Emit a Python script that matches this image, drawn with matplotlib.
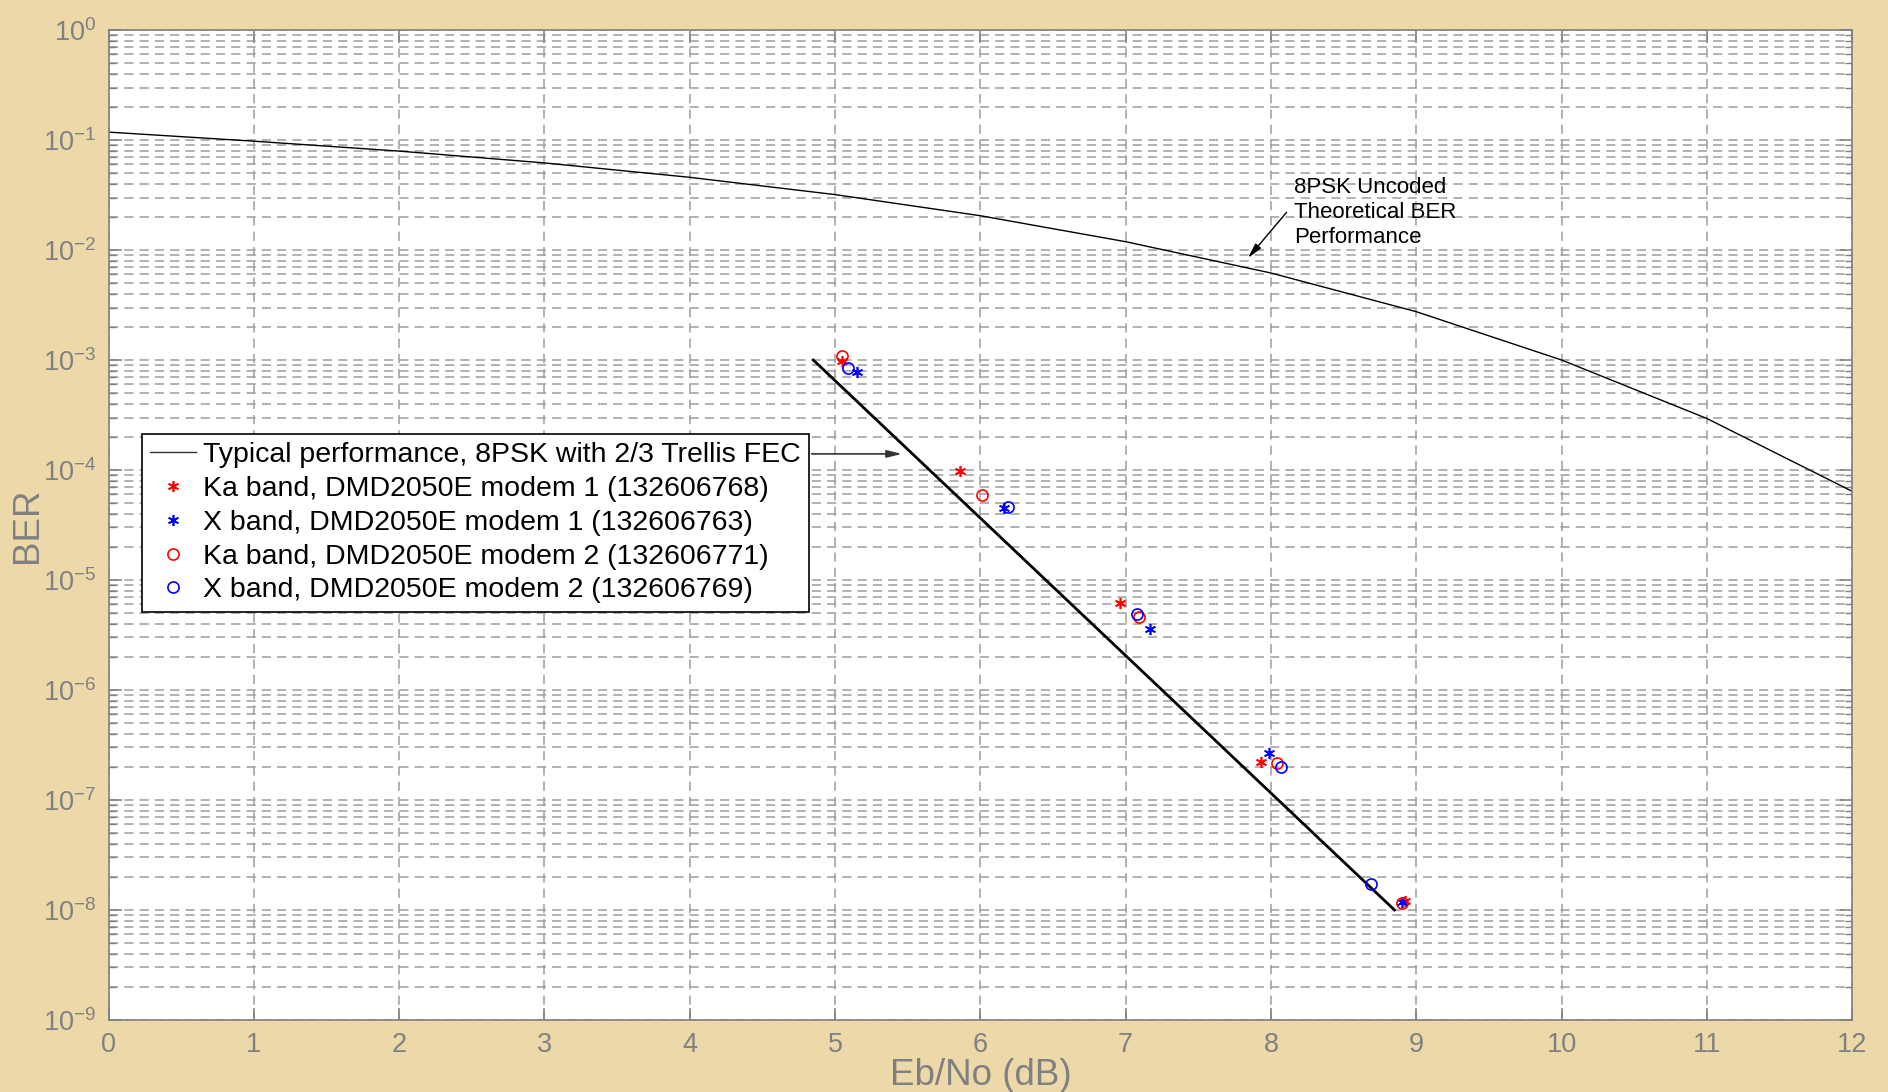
import matplotlib
matplotlib.use('Agg')
import matplotlib.pyplot as plt
from matplotlib.ticker import LogLocator, NullFormatter, FixedLocator

plt.rcParams['font.family'] = ['Liberation Sans', 'DejaVu Sans']
plt.rcParams['mathtext.default'] = 'regular'

# 8PSK uncoded theoretical curve (1 dB steps)
ebno_theory = [0, 1, 2, 3, 4, 5, 6, 7, 8, 9, 10, 11, 12]
ber_theory = [0.118, 0.0976, 0.0793, 0.0619, 0.0458, 0.0319, 0.0205,
              0.0119, 0.00618, 0.00275, 0.00100, 2.94e-4, 6.4e-5]

# typical 8PSK 2/3 TCM performance (straight line)
typical_x = [4.85, 8.85]
typical_ber = [1e-3, 1e-8]

# measured points
ka1_x = [5.05, 5.86, 6.96, 7.93, 8.92]
ka1_ber = [9.8e-4, 9.7e-5, 6.2e-6, 2.2e-7, 1.21e-8]
x1_x = [5.15, 6.16, 7.17, 7.99, 8.90]
x1_ber = [7.8e-4, 4.5e-5, 3.6e-6, 2.66e-7, 1.19e-8]
ka2_x = [5.05, 6.01, 7.09, 8.04, 8.90]
ka2_ber = [1.09e-3, 5.96e-5, 4.6e-6, 2.18e-7, 1.15e-8]
x2_x = [5.09, 6.19, 7.08, 8.07, 8.69]
x2_ber = [8.5e-4, 4.6e-5, 4.9e-6, 2.0e-7, 1.72e-8]

x_ticks = [0, 1, 2, 3, 4, 5, 6, 7, 8, 9, 10, 11, 12]
y_ticks = [1e0, 1e-1, 1e-2, 1e-3, 1e-4, 1e-5, 1e-6, 1e-7, 1e-8, 1e-9]
y_labels = ['$10^{0}$', '$10^{-1}$', '$10^{-2}$', '$10^{-3}$', '$10^{-4}$',
            '$10^{-5}$', '$10^{-6}$', '$10^{-7}$', '$10^{-8}$', '$10^{-9}$']

labels = ['Typical performance, 8PSK with 2/3 Trellis FEC',
          'Ka band, DMD2050E modem 1 (132606768)',
          'X band, DMD2050E modem 1 (132606763)',
          'Ka band, DMD2050E modem 2 (132606771)',
          'X band, DMD2050E modem 2 (132606769)']

grey = '#808080'
fig = plt.figure(figsize=(18.88, 10.92), dpi=100, facecolor='#EDD8A9')
ax = fig.add_axes([0.0575, 0.066, 0.9235, 0.9065])
ax.set_facecolor('white')

ax.semilogy(ebno_theory, ber_theory, color='black', lw=1.0)
h0, = ax.semilogy(typical_x, typical_ber, color='black', lw=2.0)
aster = (6, 2, 0)
h1, = ax.semilogy(ka1_x, ka1_ber, ls='none', marker=aster, ms=8, mec='red', mew=1.2)
h2, = ax.semilogy(x1_x, x1_ber, ls='none', marker=aster, ms=8, mec='blue', mew=1.2)
h3, = ax.semilogy(ka2_x, ka2_ber, ls='none', marker='o', ms=8, mfc='none', mec='red', mew=1.2)
h4, = ax.semilogy(x2_x, x2_ber, ls='none', marker='o', ms=8, mfc='none', mec='blue', mew=1.2)

ax.set_xlim(0, 12)
ax.set_ylim(1e-9, 1e0)
ax.xaxis.set_major_locator(FixedLocator(x_ticks))
ax.yaxis.set_major_locator(FixedLocator(y_ticks))
ax.set_yticklabels(y_labels)
ax.yaxis.set_minor_locator(LogLocator(base=10, subs=range(2, 10), numticks=20))
ax.yaxis.set_minor_formatter(NullFormatter())

ax.grid(which='major', ls=(0, (6, 4)), color='#9c9c9c', lw=1.1)
ax.grid(which='minor', axis='y', ls=(0, (6, 4)), color='#9c9c9c', lw=1.1)

for s in ax.spines.values():
    s.set_color(grey)
    s.set_linewidth(1.2)
ax.tick_params(which='both', direction='in', top=True, right=True, colors=grey,
               labelsize=19.5, labelcolor=grey)
ax.tick_params(which='major', length=9, width=1.1, pad=9)
ax.tick_params(which='minor', length=5, width=1.0)

ax.set_xlabel('Eb/No (dB)', fontsize=26.5, color=grey, labelpad=0)
ax.set_ylabel('BER', fontsize=26.5, color=grey, labelpad=-2)

leg = ax.legend([h0, h1, h2, h3, h4], labels, loc='upper left',
                bbox_to_anchor=(0.019, 0.592), fontsize=20.5, frameon=True,
                fancybox=False, edgecolor='black', framealpha=1,
                handlelength=1.6, handletextpad=0.25, borderpad=0.3,
                labelspacing=0.27, borderaxespad=0)
leg.get_frame().set_linewidth(1.2)
leg.legend_handles[0].set_linewidth(1.0)
leg.legend_handles[0].set_color('#333333')

# arrows pointing from the labels to the curves
ax.annotate('', xy=(5.48, 1.4e-4), xytext=(4.82, 1.4e-4),
            arrowprops=dict(arrowstyle='-|>,head_length=0.9,head_width=0.22',
                            color='#333333', lw=1.2))
ax.annotate('', xy=(7.83, 8.1e-3), xytext=(8.12, 2.3e-2),
            arrowprops=dict(arrowstyle='-|>,head_length=0.9,head_width=0.22',
                            color='black', lw=1.0))
ax.text(8.16, 4.6e-2, '8PSK Uncoded\nTheoretical BER\nPerformance',
        fontsize=16, va='top', ha='left', linespacing=1.25)

fig.savefig('out.png', dpi=100, facecolor=fig.get_facecolor())
